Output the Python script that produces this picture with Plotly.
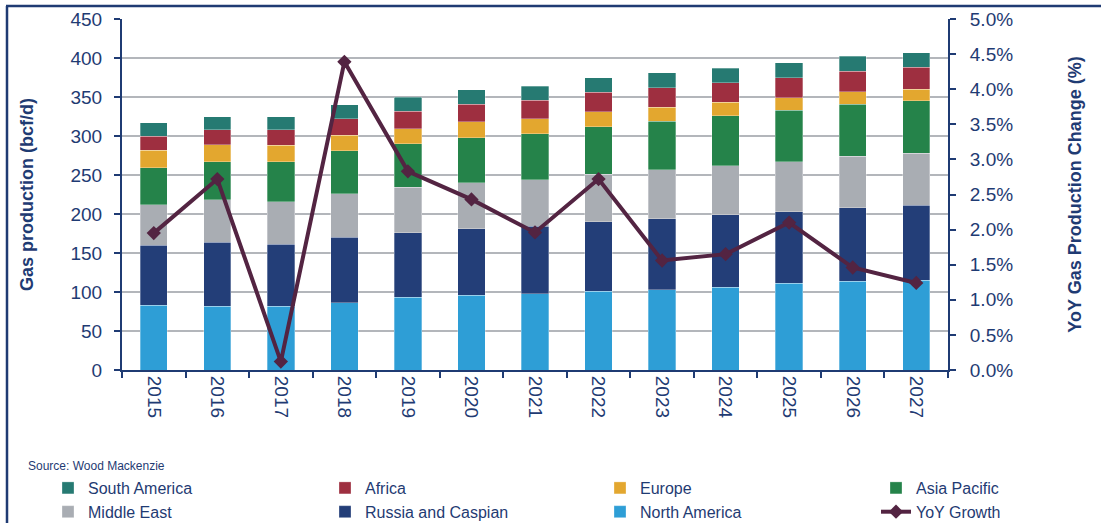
import plotly.graph_objects as go

years = ["2015", "2016", "2017", "2018", "2019", "2020", "2021",
         "2022", "2023", "2024", "2025", "2026", "2027"]

north_america = [83, 82, 82, 86, 93, 96, 98, 101, 103, 106, 111, 114, 115]
russia_caspian = [77, 82, 79, 84, 83, 85, 86, 89, 91, 93, 92, 94, 96]
middle_east = [52, 54, 55, 56, 58, 59, 60, 61, 63, 63, 64, 66, 67]
asia_pacific = [47, 49, 51, 55, 56, 58, 59, 61, 62, 64, 66, 67, 67]
europe = [23, 22, 21, 20, 19, 20, 19, 19, 18, 17, 16, 16, 15]
africa = [18, 19, 20, 21, 23, 23, 24, 25, 25, 25, 26, 26, 28]
south_america = [17, 17, 17, 18, 18, 18, 18, 19, 19, 19, 19, 19, 19]
yoy_growth = [0.0195, 0.0272, 0.0012, 0.0439, 0.0283, 0.0243, 0.0196,
              0.0272, 0.0156, 0.0165, 0.0210, 0.0146, 0.0124]

left_ticks = [0, 50, 100, 150, 200, 250, 300, 350, 400, 450]

NAVY = "#1F3B73"
FONT = "Liberation Sans, Arial, sans-serif"

# (name, values, colour, legend column, rank within column)
series = [
    ("North America", north_america, "#2E9ED6", "legend3", 2),
    ("Russia and Caspian", russia_caspian, "#233E78", "legend2", 2),
    ("Middle East", middle_east, "#A9ADB3", "legend", 2),
    ("Asia Pacific", asia_pacific, "#25834A", "legend4", 1),
    ("Europe", europe, "#E3A72F", "legend3", 1),
    ("Africa", africa, "#9E2F40", "legend2", 1),
    ("South America", south_america, "#267A72", "legend", 1),
]

fig = go.Figure()
for name, vals, color, leg, rank in series:
    fig.add_trace(go.Bar(
        x=years, y=vals, name=name, legend=leg, legendrank=rank,
        marker=dict(color=color, line=dict(color="rgba(255,255,255,0.6)", width=0.5)),
    ))

fig.add_trace(go.Scatter(
    x=years, y=yoy_growth, name="YoY Growth", yaxis="y2", legend="legend4", legendrank=2,
    mode="lines+markers",
    line=dict(color="#532442", width=4),
    marker=dict(symbol="diamond", size=11, color="#532442"),
))

W, H = 1101, 523
L, R, T, B = 122, 948, 19, 370
pw, ph = R - L, B - T

def px(x):
    return (x - L) / pw

def py(y):
    return (B - y) / ph

def legend_at(text_x):
    return dict(
        orientation="v", x=px(text_x - 40), xanchor="left", y=py(471), yanchor="top",
        font=dict(size=16, color=NAVY, family=FONT),
        traceorder="normal", bgcolor="rgba(0,0,0,0)", tracegroupgap=0,
    )

fig.update_layout(
    width=W, height=H,
    margin=dict(l=L, r=W - R, t=T, b=H - B, pad=0, autoexpand=False),
    paper_bgcolor="white", plot_bgcolor="white",
    barmode="stack", bargap=0.57,
    font=dict(family=FONT, color=NAVY),
    showlegend=True,
    legend=legend_at(88),
    legend2=legend_at(365),
    legend3=legend_at(640),
    legend4=legend_at(916),
    xaxis=dict(
        type="category", range=[-0.5, 12.5], automargin=False,
        showline=True, linecolor=NAVY, linewidth=2,
        ticks="outside", tickson="boundaries", ticklen=6, tickcolor=NAVY, tickwidth=1.5,
        tickangle=90, tickfont=dict(size=19, color=NAVY, family=FONT),
        showgrid=False,
    ),
    yaxis=dict(
        range=[0, 450], tickvals=left_ticks, automargin=False,
        showline=True, linecolor=NAVY, linewidth=2,
        ticks="outside", ticklen=6, tickcolor=NAVY, tickwidth=1.5,
        ticklabelstandoff=8,
        tickfont=dict(size=19, color=NAVY, family=FONT),
        showgrid=True, gridcolor="#B3B6BB", gridwidth=1.6,
        zeroline=False,
        title=dict(text="<b>Gas production (bcf/d)</b>", font=dict(size=18, color=NAVY, family=FONT), standoff=32),
    ),
    yaxis2=dict(
        overlaying="y", side="right", range=[0, 0.05], automargin=False,
        tickformat=".1%", dtick=0.005, tick0=0,
        showline=True, linecolor=NAVY, linewidth=2,
        ticks="outside", ticklen=6, tickcolor=NAVY, tickwidth=1.5,
        ticklabelstandoff=10,
        tickfont=dict(size=19, color=NAVY, family=FONT),
        showgrid=False, zeroline=False,
        title=dict(text="<b>YoY Gas Production Change (%)</b>", font=dict(size=18, color=NAVY, family=FONT), standoff=56),
    ),
    shapes=[
        dict(type="line", xref="paper", yref="paper", x0=px(7), x1=px(7), y0=py(6), y1=py(523),
             line=dict(color=NAVY, width=2.5)),
        dict(type="line", xref="paper", yref="paper", x0=px(6), x1=px(1101), y0=py(6), y1=py(6),
             line=dict(color=NAVY, width=2.5)),
    ],
    annotations=[
        dict(text="Source: Wood Mackenzie", xref="paper", yref="paper",
             x=px(26), y=py(466), xanchor="left", yanchor="middle",
             showarrow=False, font=dict(size=12, color=NAVY, family=FONT)),
    ],
)

fig.write_html(
    "out.html",
    config={"displayModeBar": False},
    post_script="document.body.style.margin='0';document.body.style.overflow='hidden';",
)
